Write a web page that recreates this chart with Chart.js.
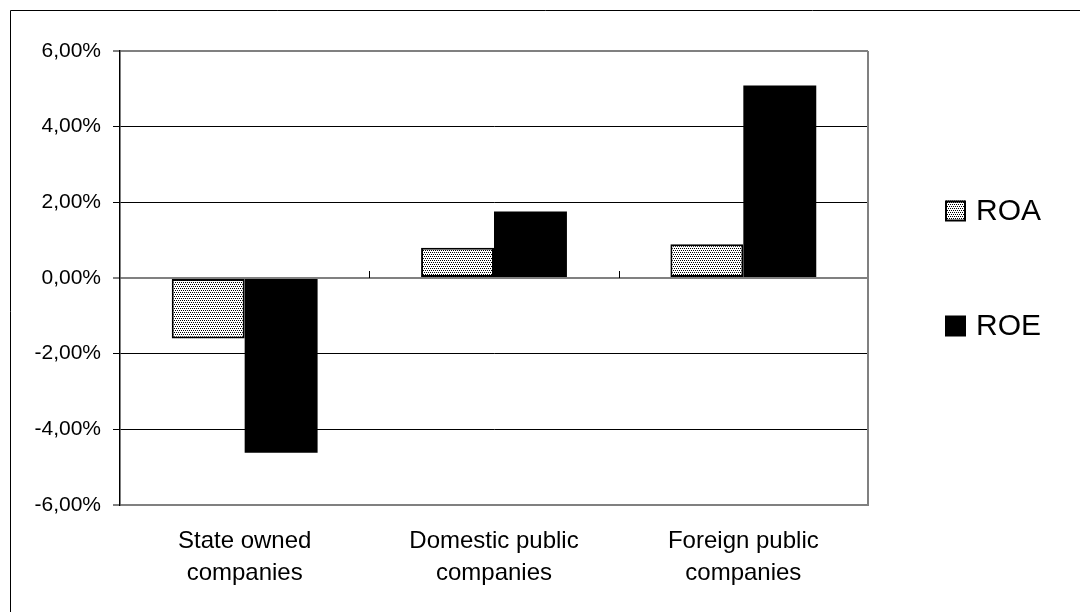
<!DOCTYPE html>
<html>
<head>
<meta charset="utf-8">
<title>ROA and ROE by ownership</title>
<script src="https://cdn.jsdelivr.net/npm/chart.js@4.4.1/dist/chart.umd.min.js"></script>
<style>
  html, body { margin: 0; padding: 0; background: #fff; }
  canvas { display: block; }
</style>
</head>
<body>
<canvas id="grafica" width="1080" height="612"></canvas>
<script>
const categories = [['State owned', 'companies'], ['Domestic public', 'companies'], ['Foreign public', 'companies']];
const seriesNames = ['ROA', 'ROE'];
const roaValues = [-1.60, 0.80, 0.89];
const roeValues = [-4.62, 1.76, 5.09];
const yTicks = [-6, -4, -2, 0, 2, 4, 6];

const FONT = '"Liberation Sans", Arial, sans-serif';

// dotted fill like the old Excel "25%" pattern
function makeDots() {
  const tile = document.createElement('canvas');
  tile.width = 4;
  tile.height = 4;
  const c = tile.getContext('2d');
  c.fillStyle = '#fff';
  c.fillRect(0, 0, 4, 4);
  c.fillStyle = '#000';
  c.fillRect(0, 0, 1, 1);
  c.fillRect(2, 0, 1, 1);
  c.fillRect(1, 2, 1, 1);
  c.fillRect(3, 2, 1, 1);
  return c.createPattern(tile, 'repeat');
}

function fmtPct(v) {
  return v.toFixed(2).replace('.', ',') + '%';
}

const framePlugin = {
  id: 'frame',
  beforeDraw(chart) {
    const ctx = chart.ctx;
    ctx.save();
    ctx.strokeStyle = '#000';
    ctx.lineWidth = 1;
    ctx.beginPath();
    ctx.moveTo(10.5, chart.height);
    ctx.lineTo(10.5, 10.5);
    ctx.lineTo(chart.width, 10.5);
    ctx.stroke();
    ctx.restore();
  },
  afterDraw(chart) {
    const ctx = chart.ctx;
    const area = chart.chartArea;
    const x = chart.scales.x;
    const y0 = chart.scales.y.getPixelForValue(0);
    ctx.save();
    // right side of the plot box
    ctx.strokeStyle = '#808080';
    ctx.lineWidth = 2;
    ctx.beginPath();
    ctx.moveTo(area.right, area.top);
    ctx.lineTo(area.right, area.bottom + 1);
    ctx.stroke();
    // category separators on the zero line
    ctx.strokeStyle = '#000';
    ctx.lineWidth = 1;
    for (let i = 0; i < categories.length - 1; i++) {
      const bx = Math.round((x.getPixelForValue(i) + x.getPixelForValue(i + 1)) / 2) + 0.5;
      ctx.beginPath();
      ctx.moveTo(bx, y0 - 7);
      ctx.lineTo(bx, y0);
      ctx.stroke();
    }
    // legend on the right
    const rows = [211, 326];
    ctx.font = '30px ' + FONT;
    ctx.textBaseline = 'middle';
    chart.data.datasets.forEach((ds, i) => {
      const ly = rows[i];
      ctx.fillStyle = ds.backgroundColor;
      ctx.fillRect(945, ly - 10.5, 21, 21);
      if (ds.borderWidth) {
        ctx.strokeStyle = '#000';
        ctx.lineWidth = 2;
        ctx.strokeRect(946, ly - 9.5, 19, 19);
      }
      ctx.fillStyle = '#000';
      ctx.fillText(ds.label, 976, ly + 1);
    });
    ctx.restore();
  }
};

document.addEventListener('DOMContentLoaded', () => {
  const ctx = document.getElementById('grafica').getContext('2d');
  new Chart(ctx, {
    type: 'bar',
    data: {
      labels: categories,
      datasets: [
        {
          label: seriesNames[0],
          data: roaValues,
          backgroundColor: makeDots(),
          borderColor: '#000',
          borderWidth: 2,
          borderSkipped: false
        },
        {
          label: seriesNames[1],
          data: roeValues,
          backgroundColor: '#000',
          borderWidth: 0
        }
      ]
    },
    options: {
      responsive: false,
      animation: false,
      events: [],
      layout: { padding: { top: 51, right: 212, left: 0, bottom: 0 } },
      datasets: { bar: { categoryPercentage: 0.585, barPercentage: 1 } },
      plugins: {
        legend: { display: false },
        tooltip: { enabled: false }
      },
      scales: {
        x: {
          grid: { display: false, drawTicks: false },
          border: { display: false },
          ticks: {
            color: '#000',
            padding: 20,
            maxRotation: 0,
            autoSkip: false,
            font: { family: FONT, size: 24, lineHeight: 1.33 }
          },
          afterFit: (s) => { s.height = 107; }
        },
        y: {
          min: -6,
          max: 6,
          afterBuildTicks: (s) => { s.ticks = yTicks.map(v => ({ value: v })); },
          afterFit: (s) => { s.width = 120; },
          grid: {
            color: (c) => (c.tick && (c.tick.value === 0 || Math.abs(c.tick.value) === 6)) ? '#808080' : '#000',
            lineWidth: (c) => (c.tick && (c.tick.value === 0 || Math.abs(c.tick.value) === 6)) ? 2 : 1,
            tickColor: '#000',
            tickLength: 7,
            tickWidth: 1
          },
          border: { display: true, color: '#000', width: 1.5 },
          ticks: {
            color: '#000',
            padding: 12,
            font: { family: FONT, size: 21 },
            callback: (v) => fmtPct(v)
          }
        }
      }
    },
    plugins: [framePlugin]
  });
});
</script>
</body>
</html>
